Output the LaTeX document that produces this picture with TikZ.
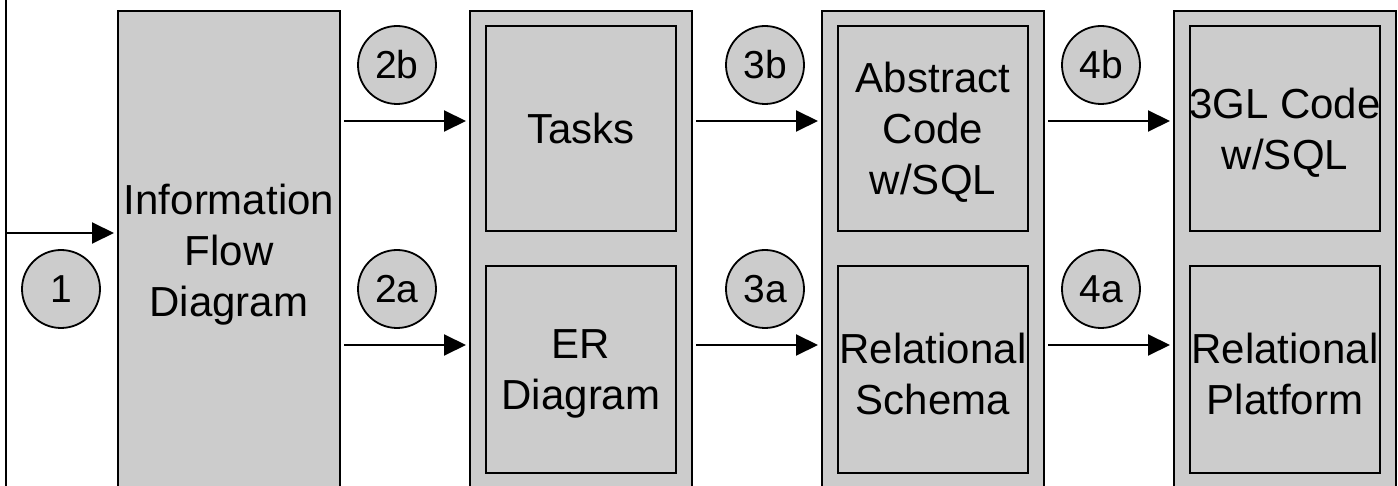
\documentclass[tikz,border=0pt]{standalone}
\usepackage{fontspec}
\setmainfont{Liberation Sans}
\usetikzlibrary{arrows.meta}
\definecolor{boxgray}{RGB}{204,204,204}
\begin{document}
\begin{tikzpicture}[x=0.5pt,y=-0.5pt,
  boxfont/.style={font=\fontsize{21}{25.5}\selectfont},
  outerbox/.style={draw, line width=1pt, fill=boxgray, minimum width=111pt, minimum height=239.5pt, inner sep=0pt, align=center, boxfont},
  innerbox/.style={draw, line width=1pt, fill=boxgray, minimum width=95pt, minimum height=103pt, inner sep=0pt, align=center, boxfont},
  boxtext/.style={label={[boxfont, align=center, yshift=-2pt]center:#1}},
  stepcircle/.style={circle, draw, line width=0.9pt, fill=boxgray, minimum size=39pt, inner sep=0pt, font=\fontsize{19.5}{20}\selectfont},
  arr/.style={line width=1pt, -{Triangle[length=11pt,width=10.5pt]}, shorten <=1.5pt, shorten >=1.5pt}]
\clip (0,0) rectangle (1398,486);
\fill[white] (0,0) rectangle (1398,486);
% outer boxes
\node[outerbox, boxtext={Information\\Flow\\Diagram}] (ifd) at (229,250.5) {};
\node[outerbox] (b2) at (581,250.5) {};
\node[outerbox] (b3) at (933,250.5) {};
\node[outerbox] (b4) at (1285,250.5) {};
% inner boxes
\node[innerbox, minimum height=102.5pt] (tasks) at (581,128.5) {Tasks};
\node[innerbox, boxtext={ER\\Diagram}] (er) at (581,369.5) {};
\node[innerbox, minimum height=102.5pt, boxtext={Abstract\\Code\\w/SQL}] (abs) at (933,128.5) {};
\node[innerbox, boxtext={Relational\\Schema}] (rs) at (933,369.5) {};
\node[innerbox, minimum height=102.5pt, boxtext={3GL Code\\w/SQL}] (gl) at (1285,128.5) {};
\node[innerbox, boxtext={Relational\\Platform}] (rp) at (1285,369.5) {};
% step circles
\node[stepcircle] (c1) at (61,289) {1};
\node[stepcircle] (c2b) at (397,65) {2b};
\node[stepcircle] (c2a) at (397,289) {2a};
\node[stepcircle] (c3b) at (765,65) {3b};
\node[stepcircle] (c3a) at (765,289) {3a};
\node[stepcircle] (c4b) at (1101,65) {4b};
\node[stepcircle] (c4a) at (1101,289) {4a};
% left input line
\coordinate (ltop) at (6,0);
\coordinate (lbot) at (6,486);
\coordinate (lin) at (6,233);
\draw[line width=1pt] (ltop) -- (lbot);
\draw[arr, shorten <=0pt] (lin) -- (ifd.west |- lin);
% arrows
\coordinate (yb) at (0,121);
\coordinate (ya) at (0,345);
\draw[arr] (ifd.east |- yb) -- (b2.west |- yb);
\draw[arr] (ifd.east |- ya) -- (b2.west |- ya);
\draw[arr] (b2.east |- yb) -- (b3.west |- yb);
\draw[arr] (b2.east |- ya) -- (b3.west |- ya);
\draw[arr] (b3.east |- yb) -- (b4.west |- yb);
\draw[arr] (b3.east |- ya) -- (b4.west |- ya);
\end{tikzpicture}
\end{document}
